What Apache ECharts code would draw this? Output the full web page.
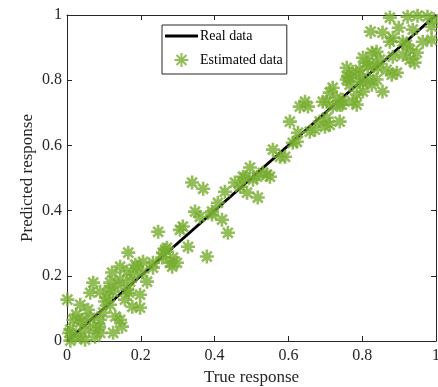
<!DOCTYPE html>
<html>
<head>
<meta charset="utf-8">
<script src="https://cdn.jsdelivr.net/npm/echarts@6/dist/echarts.min.js"></script>
<style>
  html, body { margin: 0; padding: 0; background: #fff; overflow: hidden; }
  #chart { width: 438px; height: 387px; }
</style>
</head>
<body>
<div id="chart"></div>
<script>
// series names
const seriesNames = ['Real data', 'Estimated data'];

// reference line (y = x)
const realTrue = [0, 1];
const realPred = [0, 1];

// estimated points
const estTrue = [
  0.875, 0.923, 0.950, 0.977, 0.994, 0.988, 0.823, 0.855, 0.899, 0.937,
  0.988, 0.964, 0.875, 0.910, 0.929, 0.948, 0.826, 0.848, 0.883, 0.929,
  0.812, 0.866, 0.793, 0.894, 0.883, 0.839, 0.802, 0.815, 0.842, 0.880,
  0.910, 0.942, 0.921, 0.774, 0.761, 0.766, 0.793, 0.821, 0.826, 0.855,
  0.802, 0.785, 0.712, 0.720, 0.704, 0.739, 0.774, 0.785,
  0.645, 0.631, 0.653, 0.604, 0.693, 0.731, 0.720, 0.745, 0.758, 0.766,
  0.793, 0.829, 0.839, 0.658, 0.685, 0.704, 0.712, 0.626, 0.672, 0.699,
  0.739, 0.747, 0.758, 0.802, 0.558, 0.577, 0.612, 0.496, 0.515, 0.542,
  0.504, 0.591, 0.623,
  0.339, 0.369, 0.428, 0.455, 0.469, 0.477, 0.531, 0.550, 0.488, 0.517,
  0.409, 0.393, 0.347, 0.360, 0.393, 0.420, 0.314, 0.436, 0.306, 0.247,
  0.328, 0.271, 0.260, 0.379, 0.287, 0.279, 0.298, 0.233, 0.482,
  0.166, 0.266, 0.258, 0.285, 0.206, 0.190, 0.144, 0.233, 0.122, 0.163,
  0.179, 0.204, 0.144, 0.117, 0.171, 0.090, 0.125, 0.163, 0.109, 0.001,
  0.071, 0.063, 0.036, 0.217, 0.177, 0.198, 0.144, 0.149, 0.125, 0.017,
  0.009, 0.036, 0.071, 0.098, 0.090, 0.063, 0.036, 0.114, 0.103, 0.168,
  0.131, 0.006, 0.022, 0.049, 0.087, 0.076, 0.041, 0.057, 0.025, 0.117,
  0.157, 0.198, 0.139, 0.185, 0.090, 0.049, 0.009
];
const estPred = [
  0.992, 0.995, 0.998, 0.995, 0.986, 0.964, 0.949, 0.946, 0.961, 0.955,
  0.924, 0.918, 0.918, 0.918, 0.894, 0.884, 0.884, 0.863, 0.872, 0.863,
  0.854, 0.832, 0.832, 0.823, 0.930, 0.887, 0.869, 0.842, 0.838, 0.817,
  0.878, 0.854, 0.909, 0.826, 0.811, 0.786, 0.795, 0.802, 0.786, 0.765,
  0.765, 0.756, 0.762, 0.777, 0.734, 0.725, 0.734, 0.725,
  0.734, 0.719, 0.719, 0.673, 0.734, 0.746, 0.719, 0.725, 0.838, 0.808,
  0.817, 0.848, 0.802, 0.642, 0.673, 0.685, 0.663, 0.639, 0.648, 0.657,
  0.673, 0.740, 0.802, 0.792, 0.587, 0.565, 0.608, 0.532, 0.504, 0.510,
  0.495, 0.565, 0.611,
  0.486, 0.467, 0.458, 0.486, 0.473, 0.504, 0.516, 0.504, 0.455, 0.440,
  0.424, 0.397, 0.397, 0.381, 0.388, 0.372, 0.351, 0.332, 0.341, 0.335,
  0.289, 0.286, 0.271, 0.259, 0.256, 0.240, 0.240, 0.240, 0.501,
  0.271, 0.280, 0.256, 0.228, 0.243, 0.228, 0.228, 0.225, 0.210, 0.213,
  0.203, 0.210, 0.188, 0.179, 0.182, 0.151, 0.151, 0.157, 0.133, 0.127,
  0.179, 0.148, 0.111, 0.182, 0.105, 0.102, 0.065, 0.044, 0.025, 0.065,
  0.035, 0.013, 0.041, 0.087, 0.025, 0.071, 0.056, 0.157, 0.121, 0.148,
  0.075, 0.025, 0.013, 0.035, 0.044, 0.013, 0.065, 0.096, 0.081, 0.111,
  0.127, 0.142, 0.173, 0.234, 0.065, 0.004, 0.001
];

const axisColor = '#262626';
const green = '#77ac30';
const font = '"Liberation Serif", "Times New Roman", serif';
// matlab-style asterisk: plus + cross, stroked
const asterisk = 'path://M10,0L10,20M0,10L20,10M2.93,2.93L17.07,17.07M2.93,17.07L17.07,2.93';

const chart = echarts.init(document.getElementById('chart'), null, { renderer: 'canvas' });

const baseAxis = {
  type: 'value',
  min: 0,
  max: 1,
  interval: 0.2,
  splitLine: { show: false },
  axisLine: { show: true, onZero: false, lineStyle: { color: axisColor, width: 1 } },
  axisTick: { show: true, inside: true, length: 5, lineStyle: { color: axisColor } },
};

const option = {
  animation: false,
  backgroundColor: '#fff',
  textStyle: { fontFamily: font },
  grid: { left: 67, right: 2, top: 15, bottom: 46, containLabel: false, outerBoundsMode: 'none' },
  legend: {
    orient: 'vertical',
    left: 162,
    top: 25,
    padding: [4, 4, 6, 3],
    itemGap: 9,
    itemWidth: 33,
    itemHeight: 14,
    backgroundColor: '#fff',
    borderColor: axisColor,
    borderWidth: 1,
    borderRadius: 0,
    textStyle: { fontFamily: font, fontSize: 14, color: '#000', padding: [0, 0, 0, -3] },
    data: [
      { name: seriesNames[0], icon: 'path://M0,0L33,0L33,3L0,3Z', itemStyle: { color: '#000' } },
      { name: seriesNames[1] },
    ],
  },
  xAxis: [
    {
      ...baseAxis,
      position: 'bottom',
      name: 'True response',
      nameLocation: 'middle',
      nameGap: 25,
      nameTextStyle: { fontFamily: font, fontSize: 17, color: axisColor },
      axisLabel: { fontFamily: font, fontSize: 16, color: axisColor, margin: 7 },
    },
    { ...baseAxis, position: 'top', axisLabel: { show: false } },
  ],
  yAxis: [
    {
      ...baseAxis,
      position: 'left',
      name: 'Predicted response',
      nameLocation: 'middle',
      nameGap: 31,
      nameMoveOverlap: false,
      nameTextStyle: { fontFamily: font, fontSize: 17, color: axisColor },
      axisLabel: { fontFamily: font, fontSize: 16, color: axisColor, margin: 5 },
    },
    { ...baseAxis, position: 'right', axisLabel: { show: false } },
  ],
  series: [
    {
      name: seriesNames[0],
      type: 'line',
      data: realTrue.map((x, i) => [x, realPred[i]]),
      symbol: 'none',
      lineStyle: { color: '#000', width: 3 },
      itemStyle: { color: '#000' },
      z: 2,
    },
    {
      name: seriesNames[1],
      type: 'scatter',
      data: estTrue.map((x, i) => [x, estPred[i]]),
      symbol: asterisk,
      symbolSize: 14,
      itemStyle: { color: 'rgba(0,0,0,0)', borderColor: green, borderWidth: 2.6 },
      z: 3,
    },
  ],
};

chart.setOption(option);
</script>
</body>
</html>
